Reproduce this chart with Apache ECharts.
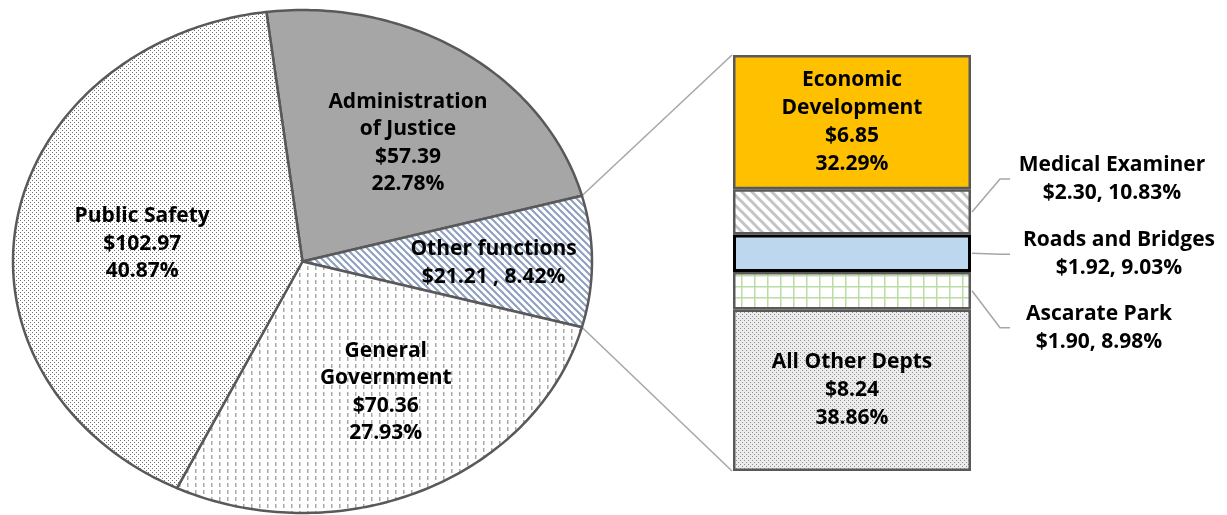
<!DOCTYPE html>
<html>
<head>
<meta charset="utf-8">
<script src="https://cdn.jsdelivr.net/npm/echarts@6/dist/echarts.min.js"></script>
<style>
  html, body { margin: 0; background: #fff; }
  #main { width: 1227px; height: 515px; }
</style>
</head>
<body>
<div id="main"></div>
<script>
// pie slices, clockwise from the top
const sliceNames = ['Administration\nof Justice', 'Other functions', 'General\nGovernment', 'Public Safety'];
const sliceValues = [57.39, 21.21, 70.36, 102.97];
const slicePercents = ['22.78%', '8.42%', '27.93%', '40.87%'];
const otherIndex = 1;

// what "Other functions" is made of, bottom of the bar to the top
const deptNames = ['All Other Depts', 'Ascarate Park', 'Roads and Bridges', 'Medical Examiner', 'Economic\nDevelopment'];
const deptValues = [8.24, 1.90, 1.92, 2.30, 6.85];
const deptPercents = ['38.86%', '8.98%', '9.03%', '10.83%', '32.29%'];

// layout
const PIE_GRID = { left: 13, top: 10, width: 579, height: 503 };
const BAR_GRID = { left: 733, top: 55, width: 238, height: 416 };
const FONT_SIZE = 21;
const FONT_FAMILY = '"Open Sans", "Noto Sans", sans-serif';
const FONT = 'bold ' + FONT_SIZE + 'px ' + FONT_FAMILY;
// label anchor per slice: [turn from mid angle (deg), fraction of radius]
const sliceLabelAt = [[3.9, 0.595], [0.5, 0.66], [-4.4, 0.594], [-2.1, 0.558]];
const sliceInline = [false, true, false, false];
const deptInside = [true, false, false, false, true];
const deptLabelShift = [null, [128, 37], [148, 1], [141, -33], null];

function pattern(w, h, bg, draw) {
  const c = document.createElement('canvas');
  c.width = w; c.height = h;
  const g = c.getContext('2d');
  g.fillStyle = bg;
  g.fillRect(0, 0, w, h);
  draw(g, w, h);
  return { image: c, repeat: 'repeat' };
}
function dots(color, step) {
  return function (g) {
    g.fillStyle = color;
    g.fillRect(0, 0, 1, 1);
    g.fillRect(step, step, 1, 1);
  };
}
function diag(color, width) {
  return function (g, w, h) {
    g.strokeStyle = color;
    g.lineWidth = width;
    for (let k = -1; k <= 1; k++) {
      g.beginPath();
      g.moveTo(k * w - 2, -2);
      g.lineTo(k * w + w + 2, h + 2);
      g.stroke();
    }
  };
}

const sliceFills = [
  '#a6a6a6',
  pattern(7, 7, '#ffffff', diag('#8c9fbd', 2)),
  pattern(8, 7, '#ffffff', function (g) { g.fillStyle = '#a8a8a8'; g.fillRect(3, 0, 1.5, 4); }),
  pattern(4, 4, '#ffffff', dots('#6e6e6e', 2))
];
const deptFills = [
  pattern(4, 4, '#ececec', dots('#909090', 2)),
  pattern(13, 11, '#ffffff', function (g) { g.fillStyle = '#bcdca6'; g.fillRect(0, 0, 1.5, 11); g.fillRect(0, 0, 13, 1.5); }),
  '#bdd7ee',
  pattern(10, 10, '#ffffff', diag('#c4c4c4', 3)),
  '#ffc000'
];

const money = v => '$' + v.toFixed(2);

// slice angles in degrees, clockwise from 12 o'clock; "Other" centred on 3 o'clock
const total = sliceValues.reduce((a, b) => a + b, 0);
const sweep = sliceValues.map(v => v / total * 360);
const starts = [];
let before = 0;
for (let i = 0; i < otherIndex; i++) before += sweep[i];
let acc = 90 - sweep[otherIndex] / 2 - before;
sweep.forEach(s => { starts.push(acc); acc += s; });
const rad = d => d * Math.PI / 180;
const onRim = (d, r) => [r * Math.sin(rad(d)), r * Math.cos(rad(d))];

function renderSlice(params, api) {
  const i = params.dataIndex;
  const a0 = starts[i], a1 = starts[i] + sweep[i];
  const pts = [api.coord([0, 0])];
  for (let a = a0; a < a1; a += 1) pts.push(api.coord(onRim(a, 1)));
  pts.push(api.coord(onRim(a1, 1)));
  const at = sliceLabelAt[i];
  const lp = api.coord(onRim((a0 + a1) / 2 + at[0], at[1]));
  const sep = sliceInline[i] ? ' , ' : '\n';
  return {
    type: 'group',
    children: [
      {
        type: 'polygon',
        shape: { points: pts },
        style: { fill: sliceFills[i], stroke: '#595959', lineWidth: 2.5, lineJoin: 'round' }
      },
      {
        type: 'text',
        x: lp[0], y: lp[1], z2: 10,
        style: {
          text: sliceNames[i] + '\n' + money(sliceValues[i]) + sep + slicePercents[i],
          font: FONT, fill: '#000', align: 'center', verticalAlign: 'middle', lineHeight: 27.5
        }
      }
    ]
  };
}

const chart = echarts.init(document.getElementById('main'));
const hidden = { show: false };

const option = {
  backgroundColor: '#fff',
  animation: false,
  grid: [
    Object.assign({ containLabel: false }, PIE_GRID),
    Object.assign({ containLabel: false }, BAR_GRID)
  ],
  xAxis: [
    { type: 'value', gridIndex: 0, min: -1, max: 1, axisLine: hidden, axisTick: hidden, axisLabel: hidden, splitLine: hidden },
    { type: 'category', gridIndex: 1, data: ['Other functions'], axisLine: hidden, axisTick: hidden, axisLabel: hidden, splitLine: hidden }
  ],
  yAxis: [
    { type: 'value', gridIndex: 0, min: -1, max: 1, axisLine: hidden, axisTick: hidden, axisLabel: hidden, splitLine: hidden },
    { type: 'value', gridIndex: 1, min: 0, max: sliceValues[otherIndex], axisLine: hidden, axisTick: hidden, axisLabel: hidden, splitLine: hidden }
  ],
  series: [
    {
      type: 'custom',
      xAxisIndex: 0, yAxisIndex: 0,
      clip: false,
      renderItem: renderSlice,
      data: sliceValues.map(v => [0, v])
    }
  ].concat(deptNames.map((name, i) => ({
    type: 'bar',
    name: name,
    stack: 'other',
    xAxisIndex: 1, yAxisIndex: 1,
    barWidth: '100%',
    data: [deptValues[i]],
    itemStyle: {
      color: deptFills[i],
      borderColor: i === 2 ? '#000' : '#595959',
      borderWidth: i === 2 ? 3 : 2.5
    },
    label: {
      show: true,
      position: 'inside',
      offset: deptInside[i] ? [0, 0] : [BAR_GRID.width / 2 + deptLabelShift[i][0], deptLabelShift[i][1]],
      align: 'center',
      verticalAlign: 'middle',
      color: '#000',
      textBorderWidth: 0,
      fontFamily: FONT_FAMILY,
      fontWeight: 'bold',
      fontSize: FONT_SIZE,
      lineHeight: 28,
      formatter: () => name + '\n' + money(deptValues[i]) + (deptInside[i] ? '\n' : ', ') + deptPercents[i]
    }
  })))
};
chart.setOption(option);

// connector lines from the "Other" slice to the bar, and leader lines to the outside labels
const lineStyle = { stroke: '#a6a6a6', lineWidth: 1.5 };
const pA = chart.convertToPixel({ gridIndex: 0 }, onRim(starts[otherIndex], 1));
const pB = chart.convertToPixel({ gridIndex: 0 }, onRim(starts[otherIndex] + sweep[otherIndex], 1));
const barTop = chart.convertToPixel({ yAxisIndex: 1 }, sliceValues[otherIndex]);
const barBottom = chart.convertToPixel({ yAxisIndex: 1 }, 0);
const barLeft = BAR_GRID.left - 1, barRight = BAR_GRID.left + BAR_GRID.width + 1;
const graphics = [
  { type: 'line', shape: { x1: pA[0], y1: pA[1], x2: barLeft, y2: barTop }, style: lineStyle, z: -1 },
  { type: 'line', shape: { x1: pB[0], y1: pB[1], x2: barLeft, y2: barBottom }, style: lineStyle, z: -1 }
];
let stackBase = 0;
deptValues.forEach((v, i) => {
  const yMid = chart.convertToPixel({ yAxisIndex: 1 }, stackBase + v / 2);
  stackBase += v;
  if (deptInside[i]) return;
  const yLab = yMid + deptLabelShift[i][1];
  graphics.push({
    type: 'polyline',
    shape: { points: [[barRight, yMid], [barRight + 28, yLab], [barRight + 38, yLab]] },
    style: Object.assign({ fill: null }, lineStyle)
  });
});
chart.setOption({ graphic: graphics });
</script>
</body>
</html>
